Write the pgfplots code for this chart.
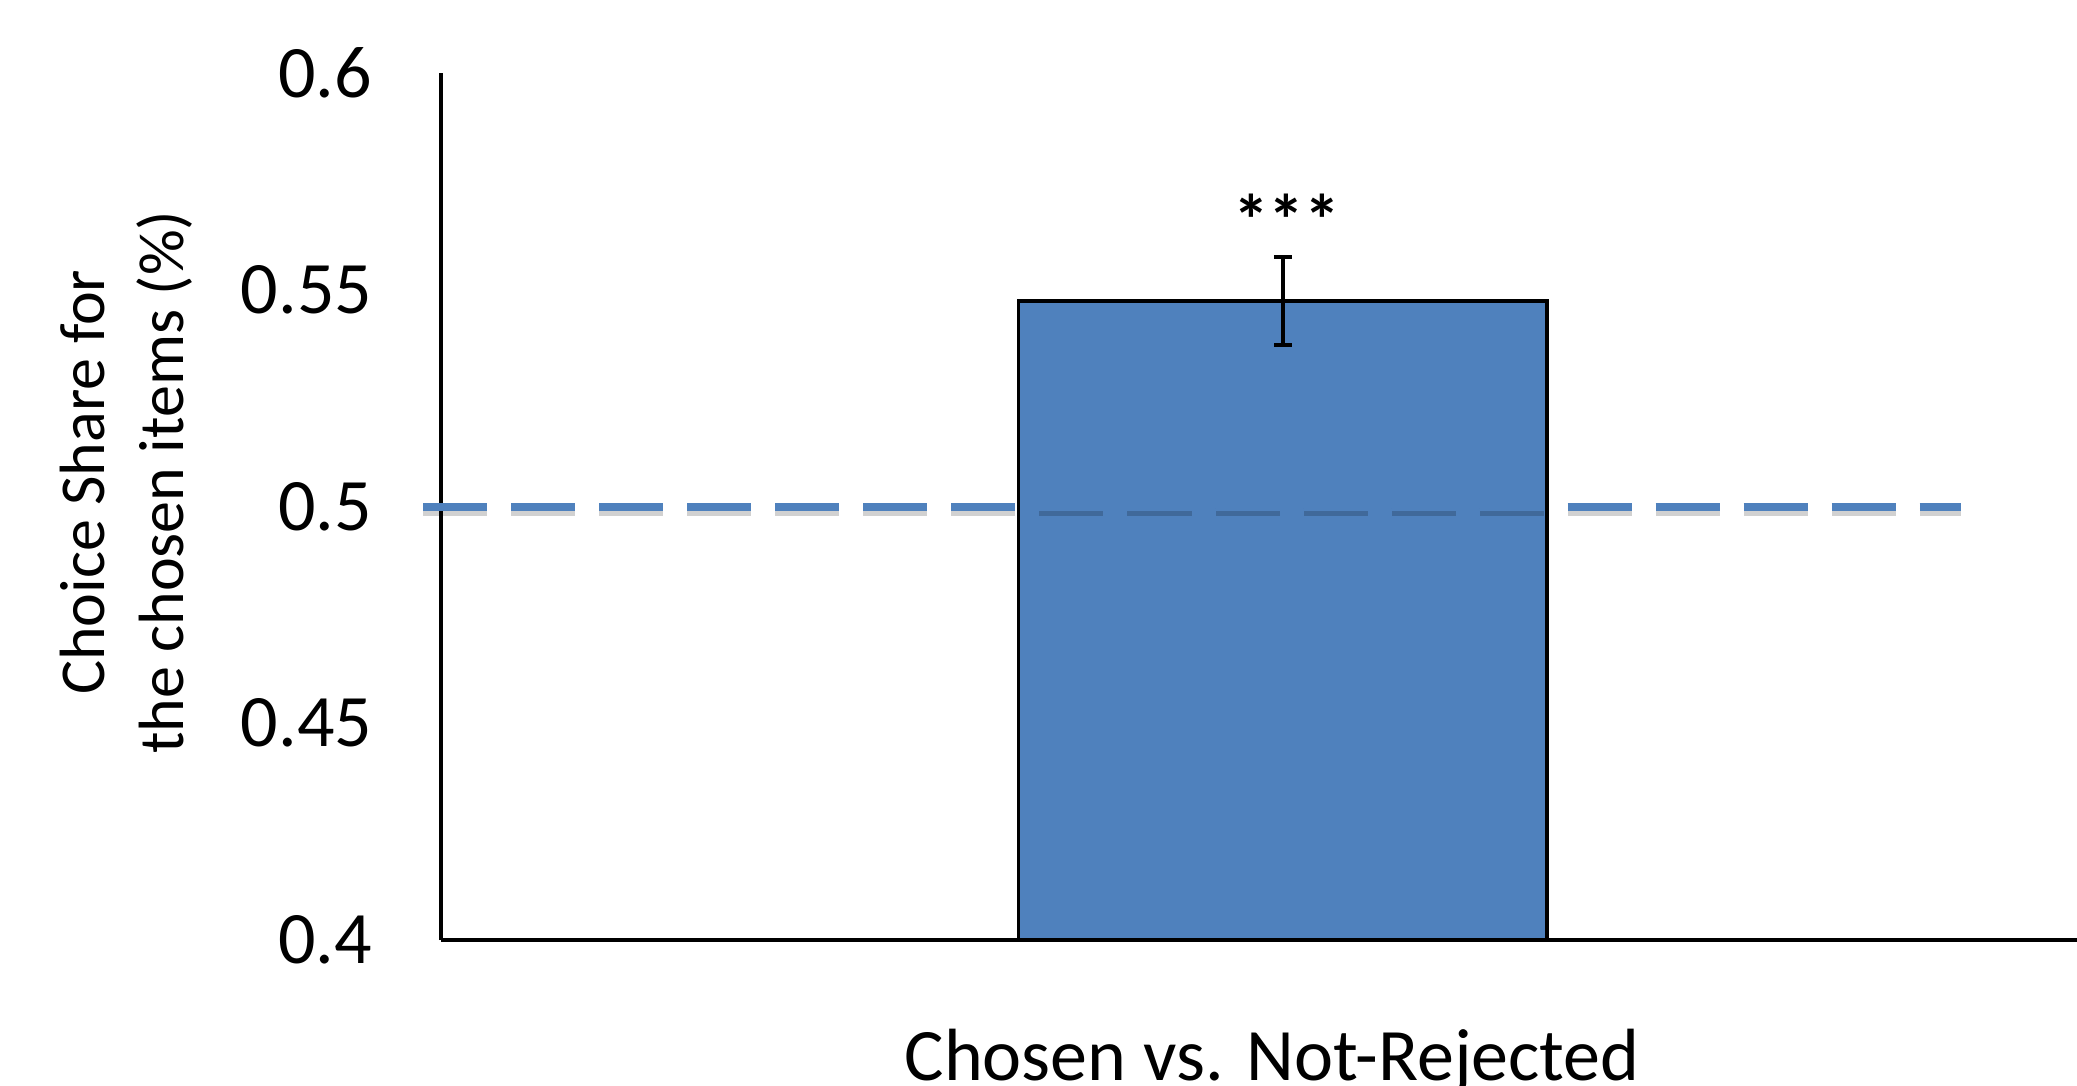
\documentclass[border=0pt]{standalone}
\usepackage{fontspec}
\setmainfont{Carlito}
\usepackage{pgfplots}
\pgfplotsset{compat=1.18}
\definecolor{barblue}{HTML}{4F81BD}
\begin{document}
\begin{tikzpicture}
\path[use as bounding box] (-110.25pt,-36.25pt) rectangle (409pt,235pt);
\begin{axis}[
  at={(0,0)}, anchor=south west,
  width=409pt, height=216.75pt, scale only axis,
  xmin=0, xmax=1, ymin=0.4, ymax=0.6,
  axis x line=bottom, axis y line=left,
  axis line style={-, line width=0.8pt, black},
  xtick=\empty,
  ytick={0.4,0.45,0.5,0.55,0.6},
  yticklabels={0.4,0.45,0.5,0.55,0.6},
  major tick length=0pt,
  yticklabel style={font=\fontsize{18.5}{22}\selectfont, xshift=-13.7pt},
  clip=false,
  /pgf/number format/assume math mode=true,
]
% bar
\addplot[fill=barblue, draw=black, line width=0.9pt] coordinates {(0.353,0.4) (0.353,0.5474) (0.676,0.5474) (0.676,0.4)} -- cycle;
% reference line shadow
\addplot[black, opacity=0.18, line width=2pt, dash pattern=on 16pt off 6pt, yshift=-1.4pt] coordinates {(-0.0107,0.5) (0.929,0.5)};
% reference line
\addplot[barblue, line width=2pt, dash pattern=on 16pt off 6pt] coordinates {(-0.0107,0.5) (0.929,0.5)};
% error bar
\addplot[draw=none, mark=none, error bars/.cd, y dir=both, y explicit,
  error bar style={line width=1pt, black},
  error mark options={rotate=90, mark size=2.2pt, line width=1pt, black}]
  coordinates {(0.5145,0.5474) +- (0,0.0102)};
\node[font=\fontsize{18}{22}\selectfont\bfseries, anchor=base] at (axis cs:0.517,0.5603) {***};
\node[font=\fontsize{16}{19.75}\selectfont, align=center, rotate=90, anchor=center, yshift=78.75pt] at (rel axis cs:0,0.528) {Choice Share for\\the chosen items (\%)};
\node[font=\fontsize{18.5}{22}\selectfont, anchor=base, inner sep=0pt, text depth=1.25pt, yshift=-35pt] at (axis cs:0.508,0.4) {Chosen vs. Not-Rejected};
\end{axis}
\end{tikzpicture}
\end{document}
